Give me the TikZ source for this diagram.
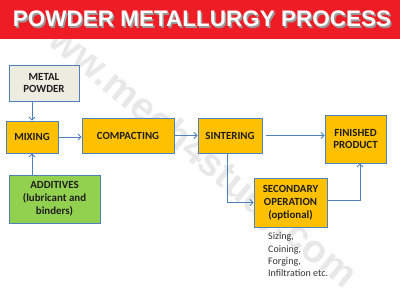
\documentclass[tikz,border=0pt]{standalone}
\usepackage{fontspec}
\setmainfont{Carlito}
\newfontfamily\titlefont{Liberation Sans}
\usetikzlibrary{arrows.meta}
\definecolor{bannerred}{RGB}{238,28,36}
\definecolor{boxorange}{RGB}{255,192,0}
\definecolor{boxgreen}{RGB}{146,208,80}
\definecolor{boxgray}{RGB}{238,236,225}
\definecolor{edgeblue}{RGB}{79,129,189}
\definecolor{txt}{RGB}{30,30,30}
\begin{document}
\begin{tikzpicture}[x=1pt,y=-1pt,
  box/.style={draw=edgeblue, line width=0.9pt, fill=boxorange, inner sep=0pt, align=center,
    font=\bfseries\fontsize{10.9}{12.8}\selectfont, text=txt},
  flow/.style={draw=edgeblue, line width=0.9pt, -{Straight Barb[length=3pt,width=6pt]}},
  titletext/.style={font=\titlefont\bfseries\fontsize{22.5}{24}\selectfont, anchor=base, inner sep=0pt},
  note/.style={font=\fontsize{10}{12.4}\selectfont, text=black!80, align=left, inner sep=0pt}]
\useasboundingbox (0,0) rectangle (400,295);
\fill[white] (0,0) rectangle (400,295);
% watermark
\node[font=\titlefont\bfseries\fontsize{39}{40}\selectfont, text=black!9, rotate=-39.6, inner sep=0pt] (wm) at (190,149) {www.mech4study.com};
\fill[bannerred] (0,0) rectangle (400,39);
% title
\node[titletext, text=black!40] (titleshadow) at (203.5,28) {POWDER METALLURGY PROCESS};
\node[titletext, text=white] (title) at (202,26.5) {POWDER METALLURGY PROCESS};
% boxes
\node[box, fill=boxgray, minimum width=70pt, minimum height=36pt] (metal) at (44,83) {METAL\\POWDER};
\node[box, minimum width=52pt, minimum height=32pt] (mix) at (32,137) {MIXING};
\node[box, minimum width=92pt, minimum height=35pt] (comp) at (128,135.5) {COMPACTING};
\node[box, minimum width=64pt, minimum height=35pt] (sint) at (230,135.5) {SINTERING};
\node[box, minimum width=61pt, minimum height=48pt] (fin) at (355.5,139) {FINISHED\\PRODUCT};
\node[box, minimum width=73pt, minimum height=49pt] (sec) at (290.5,202.5) {SECONDARY\\OPERATION\\(optional)};
\node[box, fill=boxgreen, minimum width=91pt, minimum height=48pt] (add) at (54.5,199) {ADDITIVES\\(lubricant and\\binders)};
\node[note, anchor=north west] (notes) at (268,232.7) {Sizing,\\Coining,\\Forging,\\Infiltration etc.};
% connectors
\draw[flow] (metal.south -| mix.north) -- (mix.north);
\draw[flow] (add.north -| mix.south) -- (mix.south);
\draw[flow] (mix.east) -- (mix.east -| comp.west);
\draw[flow] (comp.east) -- (comp.east -| sint.west);
\draw[flow, shorten <=4pt] (sint.east) -- (sint.east -| fin.west);
\draw[flow] ([xshift=-3pt]sint.south) |- (sec.west);
\draw[flow] ([yshift=2.5pt]sec.east) -| ([xshift=4.5pt]fin.south);
\end{tikzpicture}
\end{document}
